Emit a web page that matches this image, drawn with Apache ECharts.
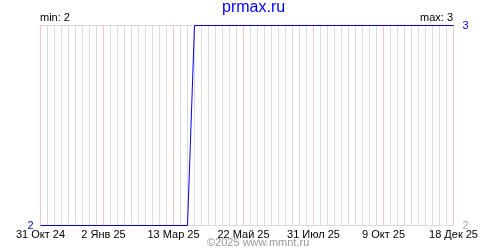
<!DOCTYPE html>
<html>
<head>
<meta charset="utf-8">
<script src="https://cdn.jsdelivr.net/npm/echarts@6/dist/echarts.min.js"></script>
<style>html,body{margin:0;padding:0;background:#fff}#c{width:500px;height:250px}</style>
</head>
<body>
<div id="c"></div>
<script>
// ---- data ----
const startDate = '2024-10-31';
const endDate = '2025-12-18';
const pointDates = ['2024-10-31', '2025-03-27', '2025-04-03', '2025-12-18'];
const pointValues = [2, 2, 3, 3];
const tickDates = ['2024-10-31', '2025-01-02', '2025-03-13', '2025-05-22', '2025-07-31', '2025-10-09', '2025-12-18'];
const tickLabels = ['31 Окт 24', '2 Янв 25', '13 Мар 25', '22 Май 25', '31 Июл 25', '9 Окт 25', '18 Дек 25'];
const titleText = 'prmax.ru';
const minText = 'min: 2';
const maxText = 'max: 3';
const footerText = '©2025 www.mmnt.ru';

// ---- helpers ----
const DAY = 86400000;
function dayIndex(s) {
  const p = s.split('-').map(Number);
  const q = startDate.split('-').map(Number);
  return Math.round((Date.UTC(p[0], p[1] - 1, p[2]) - Date.UTC(q[0], q[1] - 1, q[2])) / DAY);
}
const totalDays = dayIndex(endDate);
const tickDays = tickDates.map(dayIndex);
const labelByDay = {};
tickDays.forEach((d, i) => { labelByDay[d] = tickLabels[i]; });
const seriesData = pointDates.map((d, i) => [dayIndex(d), pointValues[i]]);

const FONT = '"Liberation Sans", Arial, sans-serif';
const chart = echarts.init(document.getElementById('c'), null, { renderer: 'canvas' });
chart.setOption({
  animation: false,
  backgroundColor: '#ffffff',
  grid: { left: 40.5, right: 46.5, top: 25.5, bottom: 24.5, containLabel: false },
  xAxis: {
    type: 'value', min: 0, max: totalDays, interval: 7,
    axisLine: { show: false }, axisTick: { show: false },
    splitLine: { show: true, lineStyle: { color: '#dcdcdc', width: 1 } },
    axisLabel: {
      show: true, showMinLabel: true, showMaxLabel: true, margin: 4,
      color: '#000', fontFamily: FONT, fontSize: 11,
      formatter: v => labelByDay[v] || ''
    }
  },
  yAxis: [
    {
      type: 'value', min: 2, max: 3, interval: 1, position: 'left',
      axisLine: { show: false }, axisTick: { show: false },
      splitLine: { show: true, lineStyle: { color: '#dcdcdc', width: 1 } },
      axisLabel: {
        margin: 7, fontFamily: FONT, fontSize: 11, color: '#0000ff',
        formatter: v => (v === 2 ? '2' : '')
      }
    },
    {
      type: 'value', min: 2, max: 3, interval: 1, position: 'right',
      axisLine: { show: false }, axisTick: { show: false },
      splitLine: { show: false },
      axisLabel: {
        margin: 9, fontFamily: FONT, fontSize: 11,
        formatter: v => (v === 3 ? '{b|3}' : '{g|2}'),
        rich: { b: { color: '#0000ff', fontFamily: FONT, fontSize: 11 }, g: { color: '#aaaaaa', fontFamily: FONT, fontSize: 11 } }
      }
    }
  ],
  series: [
    {
      type: 'line', data: [], z: 1, silent: true,
      markLine: {
        silent: true, symbol: ['none', 'none'], label: { show: false },
        lineStyle: { color: '#ffc0c0', type: 'solid', width: 1 },
        data: tickDays.map(d => ({ xAxis: d }))
      }
    },
    {
      type: 'line', data: seriesData, z: 5, showSymbol: false, symbol: 'none',
      lineStyle: { color: '#0000ff', width: 1 }
    }
  ],
  graphic: [
    { type: 'text', left: 222, top: 0, style: { text: titleText, fill: '#0000ff', font: '16px ' + FONT } },
    { type: 'text', left: 40, top: 12, style: { text: minText, fill: '#000', font: '11px ' + FONT } },
    { type: 'text', right: 47, top: 12, style: { text: maxText, fill: '#000', font: '11px ' + FONT, align: 'right' } },
    { type: 'text', left: 207, top: 237, style: { text: footerText, fill: '#999999', font: '11px ' + FONT } }
  ]
});
</script>
</body>
</html>
